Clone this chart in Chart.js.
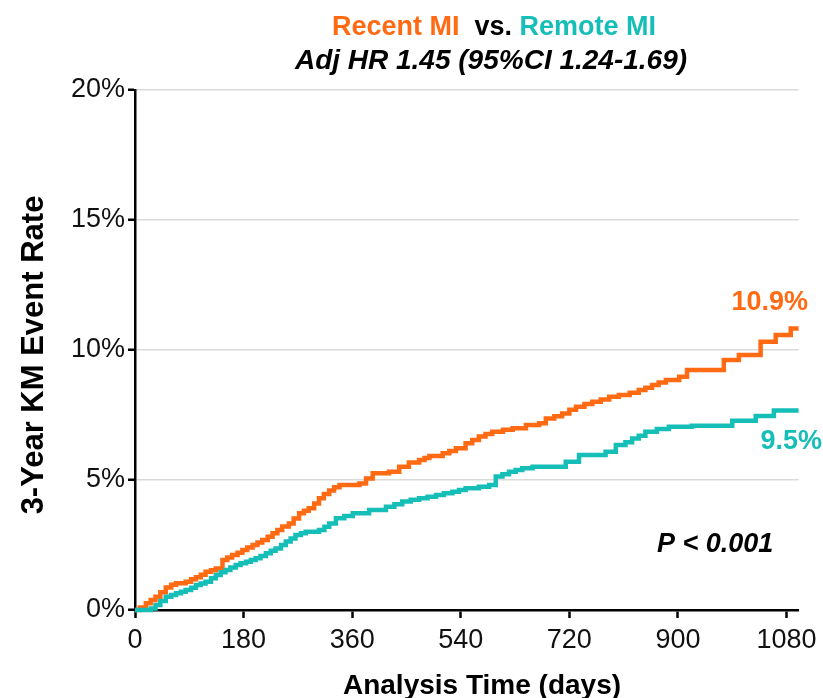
<!DOCTYPE html>
<html>
<head>
<meta charset="utf-8">
<script src="https://cdn.jsdelivr.net/npm/chart.js@4.4.1/dist/chart.umd.min.js"></script>
<style>
  html, body { margin: 0; padding: 0; background: #fff; }
  canvas { display: block; }
</style>
</head>
<body>
<canvas id="kmChart" width="823" height="698"></canvas>
<script>
// Kaplan-Meier event rates (%)
const recentDays = [0, 8, 18, 26, 34, 42, 51, 60, 68, 84, 93, 101, 109, 117, 126, 134, 145, 153, 161, 170, 178, 186, 195, 203, 211, 220, 228, 236, 244, 255, 263, 272, 280, 288, 297, 305, 313, 322, 330, 339, 372, 383, 394, 421, 438, 454, 471, 480, 488, 510, 521, 532, 548, 559, 570, 581, 592, 610, 626, 648, 670, 681, 695, 708, 720, 731, 745, 758, 772, 786, 802, 820, 835, 846, 857, 868, 880, 902, 915, 976, 1001, 1037, 1062, 1087, 1100];
const recentRate = [0, 0.1, 0.26, 0.38, 0.51, 0.68, 0.87, 0.97, 1.03, 1.09, 1.18, 1.26, 1.36, 1.47, 1.53, 1.6, 1.92, 2.02, 2.12, 2.2, 2.31, 2.4, 2.5, 2.6, 2.69, 2.82, 2.95, 3.08, 3.21, 3.33, 3.52, 3.72, 3.82, 3.91, 4.1, 4.3, 4.46, 4.6, 4.72, 4.81, 4.87, 5.06, 5.26, 5.32, 5.51, 5.67, 5.77, 5.85, 5.92, 6.03, 6.12, 6.22, 6.41, 6.54, 6.67, 6.77, 6.86, 6.93, 6.99, 7.12, 7.18, 7.37, 7.45, 7.56, 7.7, 7.82, 7.92, 8.01, 8.1, 8.2, 8.27, 8.36, 8.46, 8.55, 8.65, 8.75, 8.85, 8.97, 9.23, 9.62, 9.81, 10.32, 10.58, 10.83, 10.83];

const remoteDays = [0, 26, 34, 42, 51, 60, 68, 76, 84, 93, 101, 109, 117, 126, 134, 142, 150, 158, 167, 175, 184, 192, 200, 208, 217, 225, 233, 242, 250, 258, 266, 275, 283, 305, 314, 322, 333, 347, 361, 388, 416, 430, 443, 457, 471, 485, 499, 512, 526, 537, 548, 570, 587, 598, 609, 620, 631, 642, 659, 692, 714, 736, 780, 797, 813, 824, 835, 846, 865, 885, 923, 990, 1029, 1059, 1100];
const remoteRate = [0, 0.06, 0.19, 0.35, 0.51, 0.58, 0.64, 0.7, 0.77, 0.86, 0.96, 1.02, 1.09, 1.22, 1.35, 1.45, 1.54, 1.63, 1.73, 1.8, 1.86, 1.92, 1.99, 2.08, 2.18, 2.28, 2.37, 2.5, 2.63, 2.75, 2.88, 2.95, 3.01, 3.08, 3.2, 3.33, 3.53, 3.62, 3.72, 3.85, 3.97, 4.07, 4.17, 4.24, 4.3, 4.36, 4.42, 4.49, 4.55, 4.62, 4.68, 4.74, 4.81, 5.13, 5.22, 5.32, 5.38, 5.45, 5.51, 5.51, 5.7, 5.96, 6.09, 6.35, 6.45, 6.6, 6.7, 6.86, 6.96, 7.05, 7.09, 7.28, 7.46, 7.67, 7.67];

const xTicks = [0, 180, 360, 540, 720, 900, 1080];
const yTicks = [0, 5, 10, 15, 20];

const recentLabel = '10.9%';
const remoteLabel = '9.5%';

const ORANGE = '#FF6A13';
const TEAL = '#16BEB8';
const FONT = "'Liberation Sans', Arial, sans-serif";

function toPoints(days, rates) {
    return days.map((d, i) => ({ x: d, y: rates[i] }));
}

// titles, axis titles and end labels drawn on the canvas
const textPlugin = {
    id: 'kmText',
    afterDraw(chart) {
        const ctx = chart.ctx;
        const ys = chart.scales.y;
        ctx.save();
        ctx.textBaseline = 'alphabetic';

        // title line 1, three colours
        ctx.font = 'bold 27px ' + FONT;
        const parts = [['Recent MI', ORANGE], ['  vs. ', '#000'], ['Remote MI', TEAL]];
        let total = 0;
        parts.forEach(p => total += ctx.measureText(p[0]).width);
        let x = 494 - total / 2;
        ctx.textAlign = 'left';
        parts.forEach(p => {
            ctx.fillStyle = p[1];
            ctx.fillText(p[0], x, 35);
            x += ctx.measureText(p[0]).width;
        });

        // title line 2
        ctx.font = 'italic bold 28px ' + FONT;
        ctx.fillStyle = '#000';
        ctx.textAlign = 'center';
        ctx.fillText('Adj HR 1.45 (95%CI 1.24-1.69)', 491, 69);

        // axis titles
        ctx.font = 'bold 28px ' + FONT;
        ctx.fillText('Analysis Time (days)', 482, 694);
        ctx.save();
        ctx.translate(43, 355);
        ctx.rotate(-Math.PI / 2);
        ctx.font = 'bold 31px ' + FONT;
        ctx.fillText('3-Year KM Event Rate', 0, 0);
        ctx.restore();

        // end-of-curve labels
        ctx.font = 'bold 27px ' + FONT;
        ctx.textAlign = 'right';
        ctx.fillStyle = ORANGE;
        ctx.fillText(recentLabel, 808, ys.getPixelForValue(recentRate[recentRate.length - 1]) - 18);
        ctx.fillStyle = TEAL;
        ctx.fillText(remoteLabel, 822, ys.getPixelForValue(remoteRate[remoteRate.length - 1]) + 38);

        ctx.font = 'italic bold 27px ' + FONT;
        ctx.fillStyle = '#000';
        ctx.textAlign = 'left';
        ctx.fillText('P < 0.001', 657, 552);
        ctx.restore();
    }
};

const ctx = document.getElementById('kmChart').getContext('2d');
const kmChart = new Chart(ctx, {
    type: 'line',
    data: {
        datasets: [
            {
                label: 'Remote MI',
                data: toPoints(remoteDays, remoteRate),
                borderColor: TEAL,
                borderWidth: 4.5,
                pointRadius: 0,
                stepped: true,
                fill: false,
                clip: 6
            },
            {
                label: 'Recent MI',
                data: toPoints(recentDays, recentRate),
                borderColor: ORANGE,
                borderWidth: 4.5,
                pointRadius: 0,
                stepped: true,
                fill: false,
                clip: 6
            }
        ]
    },
    options: {
        responsive: false,
        animation: false,
        devicePixelRatio: 1,
        layout: { padding: { top: 90, right: 23, left: 0, bottom: 0 } },
        plugins: {
            legend: { display: false },
            tooltip: { enabled: false }
        },
        scales: {
            x: {
                type: 'linear',
                min: 0,
                max: 1100,
                afterBuildTicks: scale => { scale.ticks = xTicks.map(v => ({ value: v })); },
                afterFit: scale => { scale.height = 88; },
                border: { color: '#000', width: 2.5 },
                grid: { drawOnChartArea: false, drawTicks: true, tickLength: 8, tickColor: '#000', tickWidth: 2.5 },
                ticks: { color: '#111', padding: 6, maxRotation: 0, autoSkip: false, font: { family: FONT, size: 27 }, callback: v => String(v) }
            },
            y: {
                min: 0,
                max: 20,
                afterBuildTicks: scale => { scale.ticks = yTicks.map(v => ({ value: v })); },
                afterFit: scale => { scale.width = 135; },
                border: { color: '#000', width: 2.5 },
                grid: { color: '#d9d9d9', lineWidth: 1.5, drawTicks: true, tickLength: 7, tickColor: '#000', tickWidth: 2.5 },
                ticks: { color: '#111', padding: 3, autoSkip: false, font: { family: FONT, size: 27 }, callback: v => v + '%' }
            }
        }
    },
    plugins: [textPlugin]
});
</script>
</body>
</html>
